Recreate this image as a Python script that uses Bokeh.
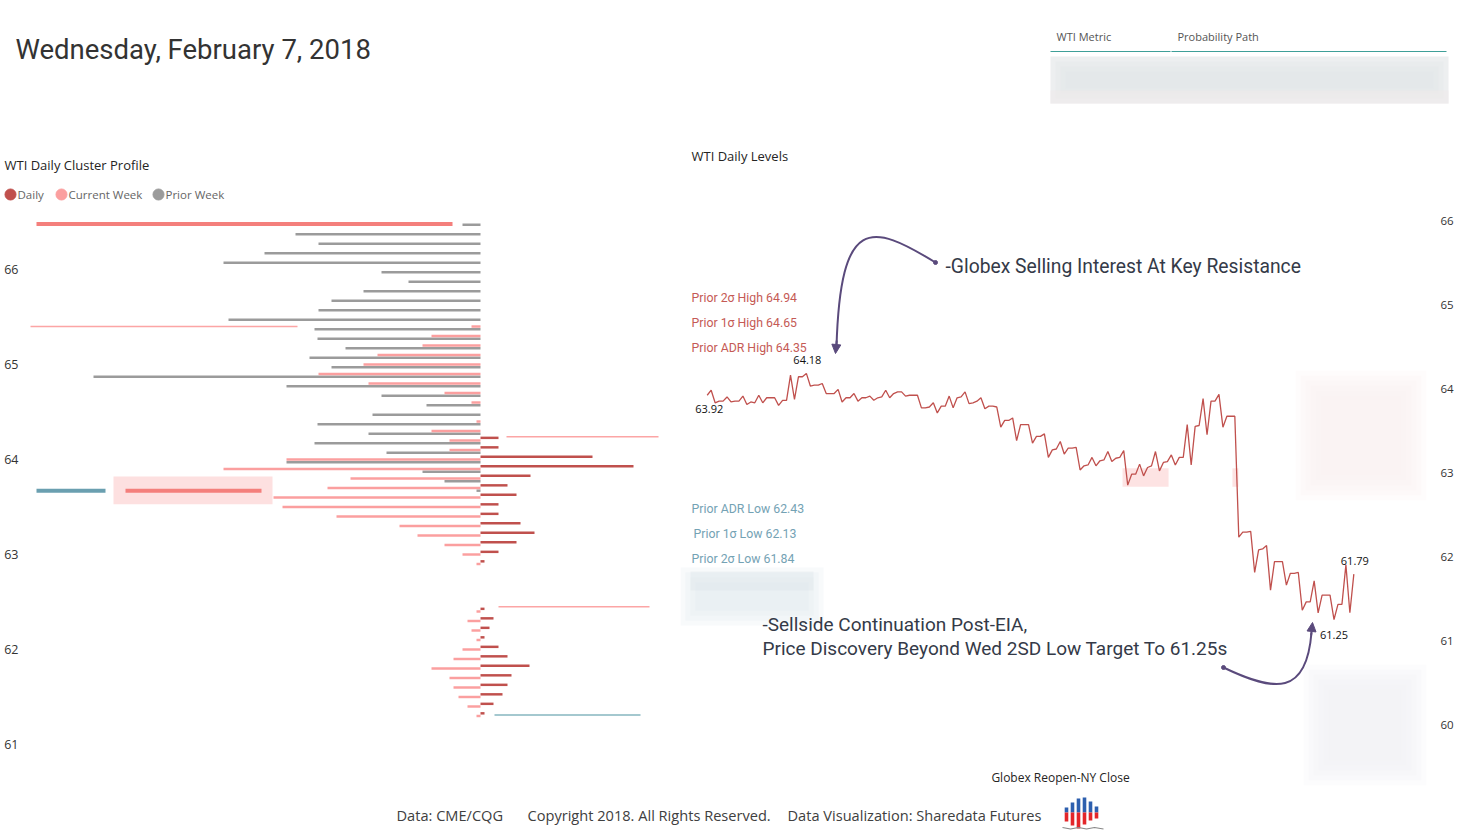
from bokeh.plotting import figure
from bokeh.layouts import column, row
from bokeh.models import (Range1d, FixedTicker, Label, Arrow, NormalHead, ColumnDataSource)
from bokeh.transform import dodge
from bokeh.embed import file_html
from bokeh.resources import INLINE

# ---------------- data ----------------
levels = [66.5, 66.4, 66.3, 66.2, 66.1, 66.0, 65.9, 65.8, 65.7, 65.6, 65.5, 65.4, 65.3,
          65.2, 65.1, 65.0, 64.9, 64.8, 64.7, 64.6, 64.5, 64.4, 64.3, 64.2, 64.1, 64.0,
          63.9, 63.8, 63.7, 63.6, 63.5, 63.4, 63.3, 63.2, 63.1, 63.0, 62.9, 62.8, 62.7,
          62.6, 62.5, 62.4, 62.3, 62.2, 62.1, 62.0, 61.9, 61.8, 61.7, 61.6, 61.5, 61.4, 61.3]
prior_week = [18, 185, 162, 216, 257, 99, 72, 117, 149, 162, 252, 166, 163,
              135, 171, 149, 387, 194, 99, 54, 108, 163, 112, 166, 94, 194,
              58, 36, 4, 0, 0, 0, 0, 0, 0, 0, 0, 0, 0,
              0, 0, 0, 0, 0, 0, 0, 0, 0, 0, 0, 0, 0, 0]
current_week = [0, 0, 0, 0, 0, 0, 0, 0, 0, 0, 0, 9, 49,
                58, 103, 117, 162, 112, 36, 9, 0, 4, 49, 31, 31, 194,
                257, 130, 153, 207, 198, 144, 81, 63, 36, 18, 4, 0, 0,
                0, 0, 4, 13, 9, 4, 18, 27, 49, 31, 27, 22, 13, 4]
daily = [0, 0, 0, 0, 0, 0, 0, 0, 0, 0, 0, 0, 0,
         0, 0, 0, 0, 0, 0, 0, 0, 0, 0, 18, 18, 112,
         153, 50, 27, 36, 18, 18, 40, 54, 36, 18, 4, 0, 0,
         0, 0, 4, 13, 9, 4, 18, 27, 49, 31, 27, 22, 13, 4]
series_names = ["Daily", "Current Week", "Prior Week"]

# reference level markers on the profile
marker_price = [66.48, 65.40, 64.24, 63.67, 63.67, 62.45, 61.31]
marker_from = [-444, -450, 26, -444, -355, 18, 14]
marker_to = [-28, -183, 178, -375, -219, 169, 160]
marker_kind = ["high", "thin_pink", "thin_pink", "teal", "high", "thin_pink", "thin_teal"]
zone_left = [-367]
zone_right = [-208]
zone_low = [63.53]
zone_high = [63.82]

# WTI price path, Globex reopen -> NY close
price_path = [63.92, 63.98, 63.83, 63.85, 63.85, 63.90, 63.84, 63.85, 63.85, 63.91,
              63.81, 63.84, 63.83, 63.92, 63.83, 63.89, 63.89, 63.89, 63.80, 63.86,
              63.86, 64.16, 63.87, 64.14, 64.14, 64.18, 64.03, 64.04, 64.04, 64.06,
              63.94, 63.94, 63.94, 63.99, 63.84, 63.89, 63.89, 63.94, 63.85, 63.89,
              63.89, 63.91, 63.86, 63.89, 63.90, 63.98, 63.89, 63.94, 63.96, 63.96,
              63.91, 63.92, 63.92, 63.92, 63.77, 63.77, 63.78, 63.83, 63.71, 63.79,
              63.79, 63.91, 63.77, 63.89, 63.90, 63.96, 63.82, 63.83, 63.85, 63.89,
              63.76, 63.79, 63.79, 63.78, 63.54, 63.62, 63.62, 63.65, 63.38, 63.57,
              63.57, 63.57, 63.35, 63.43, 63.43, 63.46, 63.18, 63.27, 63.28, 63.37,
              63.22, 63.29, 63.29, 63.30, 63.03, 63.08, 63.09, 63.18, 63.08, 63.14,
              63.15, 63.25, 63.13, 63.17, 63.18, 63.26, 62.85, 62.98, 62.98, 63.10,
              62.96, 63.06, 63.08, 63.25, 63.02, 63.12, 63.13, 63.21, 63.09, 63.18,
              63.18, 63.57, 63.09, 63.55, 63.56, 63.88, 63.45, 63.85, 63.85, 63.93,
              63.54, 63.67, 63.67, 63.67, 62.23, 62.29, 62.29, 62.30, 61.81, 62.08,
              62.09, 62.13, 61.60, 61.94, 61.94, 61.94, 61.66, 61.80, 61.80, 61.81,
              61.36, 61.46, 61.46, 61.71, 61.33, 61.54, 61.54, 61.54, 61.25, 61.43,
              61.43, 61.90, 61.33, 61.79]
session_zone_from = [104.7, 132.4]
session_zone_to = [116.3, 133.9]
session_zone_low = [62.83, 62.83]
session_zone_high = [63.05, 63.05]

level_names = ["Prior 2σ High", "Prior 1σ High", "Prior ADR High",
               "Prior ADR Low", "Prior 1σ Low", "Prior 2σ Low"]
level_values = [64.94, 64.65, 64.35, 62.43, 62.13, 61.84]

left_ticks = [61, 62, 63, 64, 65, 66]
right_ticks = [60, 61, 62, 63, 64, 65, 66]

# ---------------- styles ----------------
C_DAILY = "#c0504d"
C_CUR = "#fb9f9f"
C_PRIOR = "#9b9b9b"
C_SALMON = "#f47f7c"
C_TEAL = "#6a9fb0"
C_THIN_TEAL = "#86b6bf"
C_ZONE = "#fde0e0"
C_ARROW = "#5a4a7c"
TXT = "#333333"
SEG = "Open Sans"
DIN = "Roboto"

W = 1457
H_TOP, H_MID, H_BOT = 205, 590, 43
W_L, W_R = 680, 777


def clean(p):
    p.grid.visible = False
    p.outline_line_color = None
    p.background_fill_color = "white"
    p.border_fill_color = "white"


def plain(width, height, xr, yr):
    p = figure(width=width, height=height, x_range=Range1d(*xr), y_range=Range1d(*yr),
               x_axis_location=None, y_axis_location=None, min_border=0,
               toolbar_location=None, output_backend="svg")
    clean(p)
    return p


def soft_box(p, l, r, t, b, color, steps=5, alpha=0.22, **kw):
    """Blurred placeholder: stacked translucent boxes shrinking inwards."""
    for s in range(steps):
        d = s * 5
        p.quad(left=[l + d], right=[r - d], top=[t + d], bottom=[b - d],
               fill_color=color, fill_alpha=alpha, line_color=None, **kw)


# ---------------- header (date, table, panel titles, legend) ----------------
ph = plain(W, H_TOP, (0, 1457), (205, 0))
ph.add_layout(Label(x=15, y=49, text="Wednesday, February 7, 2018", text_font=DIN,
                    text_font_size="27.5px", text_color="#333333", text_baseline="middle"))
ph.add_layout(Label(x=1056, y=36, text="WTI Metric", text_font=SEG, text_font_size="11px",
                    text_color="#555555", text_baseline="middle"))
ph.add_layout(Label(x=1177, y=36, text="Probability Path", text_font=SEG,
                    text_font_size="11px", text_color="#555555", text_baseline="middle"))
ph.segment(x0=[1050, 1171], y0=[51, 51], x1=[1170, 1446], y1=[51, 51],
           line_color="#3f9f98", line_width=1)
ph.quad(left=[1050], right=[1448], top=[56], bottom=[103], fill_color="#f3f4f4",
        line_color=None)
soft_box(ph, 1050, 1448, 56, 103, "#e2e5e7", steps=4, alpha=0.3)
ph.quad(left=[1050], right=[1448], top=[90], bottom=[103], fill_color="#f0eaea",
        line_color=None, fill_alpha=0.5)

ph.add_layout(Label(x=4, y=164, text="WTI Daily Cluster Profile", text_font=SEG,
                    text_font_size="13px", text_color="#252423", text_baseline="middle"))
ph.add_layout(Label(x=691, y=155, text="WTI Daily Levels", text_font=SEG,
                    text_font_size="13px", text_color="#252423", text_baseline="middle"))
# legend
leg_x = [10, 61, 158]
ph.scatter(x=leg_x, y=[194] * 3, marker="circle", size=11,
           color=[C_DAILY, C_CUR, C_PRIOR])
for xx, name in zip(leg_x, series_names):
    ph.add_layout(Label(x=xx + 7, y=194, text=name, text_font=SEG,
                        text_font_size="11.5px", text_color="#666666",
                        text_baseline="middle"))

# ---------------- left: cluster profile ----------------
pl = figure(width=W_L, height=H_MID, x_range=Range1d(-460, 200),
            y_range=Range1d(60.463, 66.674), x_axis_location=None, y_axis_location="left",
            min_border_left=20, min_border_right=0, min_border_top=0, min_border_bottom=0,
            toolbar_location=None, output_backend="svg")
clean(pl)
pl.yaxis.ticker = FixedTicker(ticks=left_ticks)
pl.yaxis.axis_line_color = None
pl.yaxis.major_tick_line_color = None
pl.yaxis.minor_tick_line_color = None
pl.yaxis.major_tick_out = 0
pl.yaxis.major_tick_in = 0
pl.yaxis.major_label_standoff = 2
pl.yaxis.major_label_text_font = SEG
pl.yaxis.major_label_text_font_size = "12.5px"
pl.yaxis.major_label_text_color = TXT

neg_prior = [-v for v in prior_week]
neg_cur = [-v for v in current_week]
src = ColumnDataSource(dict(level=levels, prior=neg_prior, cur=neg_cur, daily=daily,
                            zero=[0] * len(levels)))

pl.quad(left=zone_left, right=zone_right, bottom=zone_low, top=zone_high,
        fill_color=C_ZONE, line_color=None)
pl.hbar(y=dodge("level", -0.028, range=pl.y_range), left="prior", right="zero",
        height=0.026, source=src, fill_color=C_PRIOR, line_color=None)
pl.hbar(y="level", left="cur", right="zero", height=0.026, source=src,
        fill_color=C_CUR, line_color=None)
pl.hbar(y=dodge("level", 0.028, range=pl.y_range), left="zero", right="daily",
        height=0.026, source=src, fill_color=C_DAILY, line_color=None)

kind_style = {"high": (C_SALMON, 4), "thin_pink": ("#fca5a5", 1.5),
              "teal": (C_TEAL, 4), "thin_teal": (C_THIN_TEAL, 1.5)}
msrc = ColumnDataSource(dict(y=marker_price, x0=marker_from, x1=marker_to,
                             c=[kind_style[k][0] for k in marker_kind],
                             w=[kind_style[k][1] for k in marker_kind]))
pl.segment(x0="x0", x1="x1", y0="y", y1="y", line_color="c", line_width="w", source=msrc)

# ---------------- right: daily levels ----------------
FR = 757
pr = figure(width=W_R, height=H_MID, x_range=Range1d(-6.73, 184.09),
            y_range=Range1d(59.155, 66.179), x_axis_location=None, y_axis_location="right",
            min_border_left=0, min_border_right=20, min_border_top=0, min_border_bottom=0,
            toolbar_location=None, output_backend="svg")
clean(pr)
pr.extra_x_ranges = {"px": Range1d(0, FR)}
pr.extra_y_ranges = {"px": Range1d(H_MID, 0)}
pr.yaxis.ticker = FixedTicker(ticks=right_ticks)
pr.yaxis.axis_line_color = None
pr.yaxis.major_tick_line_color = None
pr.yaxis.minor_tick_line_color = None
pr.yaxis.major_tick_out = 0
pr.yaxis.major_tick_in = 0
pr.yaxis.major_label_standoff = 3
pr.yaxis.major_label_text_font = SEG
pr.yaxis.major_label_text_font_size = "11.5px"
pr.yaxis.major_label_text_color = TXT

# blurred (hidden) panels
pxkw = dict(x_range_name="px", y_range_name="px")
soft_box(pr, 615, 746, 165, 295, "#f8eeee", steps=6, alpha=0.2, **pxkw)
soft_box(pr, 623, 746, 459, 580, "#eef2f4", steps=6, alpha=0.2, **pxkw)
soft_box(pr, 0, 143, 362, 420, "#dfe7eb", steps=4, alpha=0.22, **pxkw)
pr.quad(left=[10], right=[133], top=[366], bottom=[385], fill_color="#d9e3e8",
        fill_alpha=0.35, line_color=None, **pxkw)

idx = list(range(len(price_path)))
pr.quad(left=session_zone_from, right=session_zone_to, bottom=session_zone_low,
        top=session_zone_high, fill_color=C_ZONE, line_color=None, fill_alpha=0.9)
pr.line(x=idx, y=price_path, line_color=C_DAILY, line_width=1.3)

i_max = max(idx, key=lambda i: price_path[i])
i_min = min(idx, key=lambda i: price_path[i])
i_last = idx[-1]
for i, off, dx in [(0, -14, 2), (i_max, 13, 1), (i_min, -15, 0), (i_last, 13, 1)]:
    pr.add_layout(Label(x=i, y=price_path[i], text=f"{price_path[i]:.2f}", x_offset=dx,
                        y_offset=off, text_align="center", text_baseline="middle",
                        text_font=SEG, text_font_size="11px", text_color="#111111"))

high_y = [92, 117, 142]
low_y = [303, 328, 353]
for k in range(6):
    yy = (high_y + low_y)[k]
    col = "#c55a55" if k < 3 else "#74a2b4"
    pr.add_layout(Label(x=11 if k != 4 else 13, y=yy, x_range_name="px", y_range_name="px",
                        text=f"{level_names[k]} {level_values[k]:.2f}", text_font=DIN,
                        text_font_size="12.3px", text_color=col, text_baseline="middle"))

ann_color = "#343a48"
pr.add_layout(Label(x=265, y=61, x_range_name="px", y_range_name="px",
                    text="-Globex Selling Interest At Key Resistance", text_font=DIN,
                    text_font_size="19.3px", text_color=ann_color, text_baseline="middle"))
pr.add_layout(Label(x=82, y=419, x_range_name="px", y_range_name="px",
                    text="-Sellside Continuation Post-EIA,", text_font=DIN,
                    text_font_size="19px", text_color=ann_color, text_baseline="middle"))
pr.add_layout(Label(x=82, y=443, x_range_name="px", y_range_name="px",
                    text="Price Discovery Beyond Wed 2SD Low Target To 61.25s", text_font=DIN,
                    text_font_size="19px", text_color=ann_color, text_baseline="middle"))
pr.add_layout(Label(x=380, y=572, x_range_name="px", y_range_name="px",
                    text="Globex Reopen-NY Close", text_font=SEG, text_font_size="12px",
                    text_color="#252423", text_align="center", text_baseline="middle"))

# curved arrows
pr.bezier(x0=[255, 543], y0=[57, 462], x1=[156, 631], y1=[141, 427],
          cx0=[190, 595], cy0=[17, 487], cx1=[160, 626], cy1=[10, 490],
          x_range_name="px", y_range_name="px", line_color=C_ARROW, line_width=2)
pr.scatter(x=[255, 543], y=[57, 462], size=4, color=C_ARROW, x_range_name="px",
           y_range_name="px")
for xs, ys, xe, ye in [(156.2, 135, 155, 148), (630.6, 430, 632, 417)]:
    pr.add_layout(Arrow(end=NormalHead(size=9, fill_color=C_ARROW, line_color=C_ARROW),
                        x_start=xs, y_start=ys, x_end=xe, y_end=ye, x_range_name="px",
                        y_range_name="px", line_color=C_ARROW, line_width=2))

# ---------------- footer ----------------
pf = plain(W, H_BOT, (0, 1457), (838, 795))
for xx, t in [(396, "Data: CME/CQG"), (527, "Copyright 2018. All Rights Reserved."),
              (787, "Data Visualization: Sharedata Futures")]:
    pf.add_layout(Label(x=xx, y=814, text=t, text_font=SEG, text_font_size="14.6px",
                        text_color="#404040", text_baseline="middle"))
logo_x = [1066, 1072, 1078, 1084, 1090, 1096]
logo_top = [807, 802, 798, 797, 801, 806]
logo_bot = [821, 825, 828, 824, 820, 818]
pf.quad(left=[x - 1.8 for x in logo_x], right=[x + 1.8 for x in logo_x], top=logo_top,
        bottom=[812] * 6, fill_color="#2d5fae", line_color=None)
pf.quad(left=[x - 1.8 for x in logo_x], right=[x + 1.8 for x in logo_x], top=[812] * 6,
        bottom=logo_bot, fill_color="#e3262a", line_color=None)
pf.line(x=[1062, 1070, 1078, 1086, 1094, 1103], y=[827, 828.5, 827, 828.5, 827, 828.5],
        line_color="#888888", line_width=1.2)

layout = column(ph, row(pl, pr, spacing=0), pf, spacing=0)
open("out.html", "w").write(file_html(layout, INLINE))
